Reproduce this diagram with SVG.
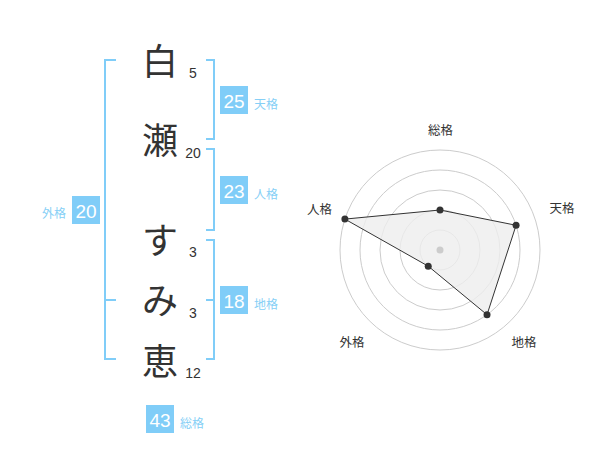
<svg xmlns="http://www.w3.org/2000/svg" width="600" height="470" viewBox="0 0 600 470">
<style>
.ch{font-family:"Noto Sans CJK JP","Noto Sans CJK SC",sans-serif;font-size:36px;fill:#333;text-anchor:middle}
.st{font-family:"Liberation Sans",Arial,sans-serif;font-size:14px;fill:#333;text-anchor:middle}
.br{fill:none;stroke:#80cdf8;stroke-width:2}
.box{fill:#80cdf8}
.bn{font-family:"Liberation Sans",Arial,sans-serif;font-size:19px;fill:#fff;text-anchor:middle}
.bl{font-family:"Noto Sans CJK JP","Noto Sans CJK SC",sans-serif;font-size:12px;fill:#86cff6}
.ring{fill:none;stroke:#cccccc;stroke-width:1}
.rl{font-family:"Noto Sans CJK JP","Noto Sans CJK SC",sans-serif;font-size:12.5px;fill:#333;text-anchor:middle}
.pt{fill:#333}
</style>
<g id="chars">
<text class="ch" x="160" y="75">白</text>
<text class="ch" x="160" y="154">瀬</text>
<text class="ch" x="160" y="254">す</text>
<text class="ch" x="160" y="314">み</text>
<text class="ch" x="160" y="375">恵</text>
<text class="st" x="193" y="78">5</text>
<text class="st" x="193" y="158">20</text>
<text class="st" x="193" y="257">3</text>
<text class="st" x="193" y="317.5">3</text>
<text class="st" x="193" y="378">12</text>
</g>
<g id="connectors">
<path class="br" d="M116,60 H105 V359 H116 M105,300 H116"/>
<path class="br" d="M206,60 H214 V139 H206"/>
<path class="br" d="M206,149 H214 V230 H206"/>
<path class="br" d="M206,240 H214 V359 H206 M206,300 H214"/>
</g>
<g id="tenkaku">
<rect class="box" x="220" y="86" width="28" height="28"/>
<text class="bn" x="234" y="107.5">25</text>
<text class="bl" x="254" y="109">天格</text>
</g>
<g id="jinkaku">
<rect class="box" x="220" y="176" width="28" height="28"/>
<text class="bn" x="234" y="197.5">23</text>
<text class="bl" x="254" y="199">人格</text>
</g>
<g id="gaikaku">
<rect class="box" x="72" y="196" width="28" height="28"/>
<text class="bn" x="86" y="217.5">20</text>
<text class="bl" x="66" y="218" text-anchor="end">外格</text>
</g>
<g id="chikaku">
<rect class="box" x="220" y="286" width="28" height="28"/>
<text class="bn" x="234" y="307.5">18</text>
<text class="bl" x="254" y="309">地格</text>
</g>
<g id="soukaku">
<rect class="box" x="146" y="405" width="28" height="28"/>
<text class="bn" x="160" y="426.5">43</text>
<text class="bl" x="180" y="428">総格</text>
</g>
<g id="radar">
<circle class="ring" cx="440" cy="250" r="20"/>
<circle class="ring" cx="440" cy="250" r="40"/>
<circle class="ring" cx="440" cy="250" r="60"/>
<circle class="ring" cx="440" cy="250" r="80"/>
<circle class="ring" cx="440" cy="250" r="100"/>
<polygon points="440,210 516.08,225.28 487.02,314.72 428.24,266.18 344.89,219.10" fill="#eeeeee" fill-opacity="0.8" stroke="#333" stroke-width="1"/>
<circle cx="440" cy="250" r="3.5" fill="#cccccc"/>
<circle class="pt" cx="440" cy="210" r="3.5"/>
<circle class="pt" cx="516.08" cy="225.28" r="3.5"/>
<circle class="pt" cx="487.02" cy="314.72" r="3.5"/>
<circle class="pt" cx="428.24" cy="266.18" r="3.5"/>
<circle class="pt" cx="344.89" cy="219.10" r="3.5"/>
<text class="rl" x="440.5" y="135">総格</text>
<text class="rl" x="562" y="213">天格</text>
<text class="rl" x="319.5" y="213.5">人格</text>
<text class="rl" x="352" y="347">外格</text>
<text class="rl" x="524" y="347">地格</text>
</g>
</svg>
